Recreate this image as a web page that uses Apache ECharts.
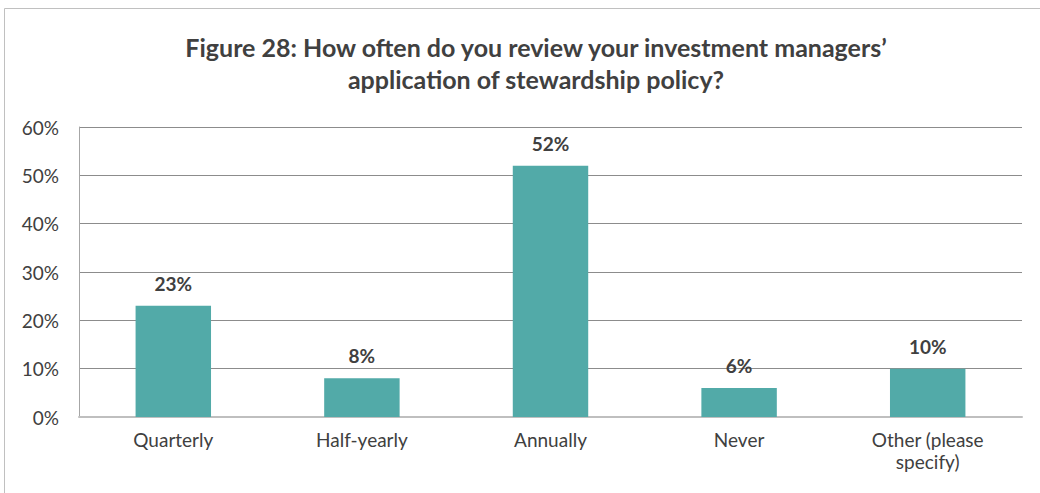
<!DOCTYPE html>
<html>
<head>
<meta charset="utf-8">
<script src="https://cdn.jsdelivr.net/npm/echarts@6/dist/echarts.min.js"></script>
<style>
  html, body { margin: 0; padding: 0; background: #fff; }
  #chart { width: 1040px; height: 493px; }
</style>
</head>
<body>
<div id="chart"></div>
<script>
// Survey responses: how often schemes review their managers' stewardship
const categories = ['Quarterly', 'Half-yearly', 'Annually', 'Never', 'Other (please\nspecify)'];
const shares = [23, 8, 52, 6, 10];
const yTicks = [0, 10, 20, 30, 40, 50, 60];
const titleLines = [
  'Figure 28: How often do you review your investment managers\u2019',
  'application of stewardship policy?'
];

const FONT = 'Lato, "Open Sans", sans-serif';
const TEXT = '#404040';

const chart = echarts.init(document.getElementById('chart'), null, { renderer: 'svg' });

chart.setOption({
  backgroundColor: '#ffffff',
  animation: false,
  title: {
    text: titleLines.join('\n'),
    left: 531,
    top: 26,
    textAlign: 'center',
    textStyle: {
      fontFamily: FONT,
      fontWeight: 'bold',
      fontSize: 25,
      lineHeight: 32,
      color: TEXT
    }
  },
  graphic: [{
    type: 'rect',
    shape: { x: 4.5, y: 8.5, width: 1100, height: 600 },
    style: { fill: 'none', stroke: '#c0c0c0', lineWidth: 1 },
    silent: true
  }],
  grid: {
    left: 79,
    right: 18,
    top: 127,
    bottom: 76,
    containLabel: false,
    show: false
  },
  xAxis: {
    type: 'category',
    data: categories,
    axisLine: { show: true, lineStyle: { color: '#bfbfbf', width: 2 } },
    axisTick: { show: false },
    axisLabel: {
      fontFamily: FONT,
      fontSize: 19,
      color: TEXT,
      margin: 11,
      lineHeight: 22,
      interval: 0
    }
  },
  yAxis: {
    type: 'value',
    min: 0,
    max: 60,
    interval: 10,
    axisLine: { show: true, lineStyle: { color: '#a6a6a6', width: 1 } },
    axisTick: { show: false },
    splitLine: { show: true, lineStyle: { color: '#8c8c8c', width: 1 } },
    axisLabel: {
      fontFamily: FONT,
      fontSize: 19,
      color: TEXT,
      margin: 20,
      formatter: v => yTicks.includes(v) ? v + '%' : ''
    }
  },
  series: [{
    type: 'bar',
    data: shares,
    barWidth: '40%',
    itemStyle: { color: '#52aaa8' },
    label: {
      show: true,
      position: 'top',
      distance: 13,
      formatter: p => p.value + '%',
      fontFamily: FONT,
      fontWeight: 'bold',
      fontSize: 19,
      color: TEXT
    }
  }]
});
</script>
</body>
</html>
